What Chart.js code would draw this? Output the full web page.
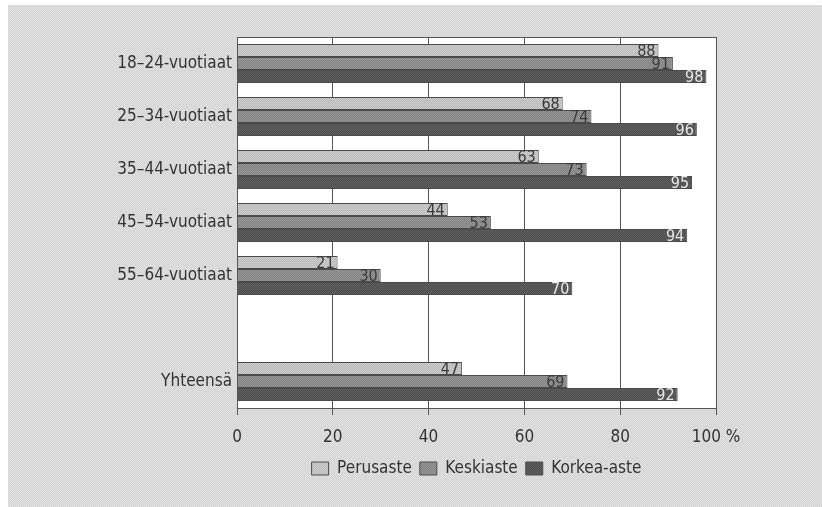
<!DOCTYPE html>
<html>
<head>
<meta charset="utf-8">
<script src="https://cdn.jsdelivr.net/npm/chart.js@4"></script>
<style>
  html, body { margin: 0; padding: 0; background: #fff; }
  #wrap { position: absolute; left: 8px; top: 5px; width: 814px; height: 502px; }
</style>
</head>
<body>
<div id="wrap"><canvas id="chart" width="814" height="502"></canvas></div>
<script>
const categories = ['18–24-vuotiaat', '25–34-vuotiaat', '35–44-vuotiaat', '45–54-vuotiaat', '55–64-vuotiaat', '', 'Yhteensä'];
const seriesNames = ['Perusaste', 'Keskiaste', 'Korkea-aste'];
const perusaste = [88, 68, 63, 44, 21, null, 47];
const keskiaste = [91, 74, 73, 53, 30, null, 69];
const korkeaAste = [98, 96, 95, 94, 70, null, 92];
const xTicks = [0, 20, 40, 60, 80, 100];

const FONT = "'Liberation Sans Narrow', 'DejaVu Sans Condensed', sans-serif";

// small checker patterns to mimic the printed halftone
function makePattern(c1, c2) {
  const p = document.createElement('canvas');
  p.width = 2; p.height = 2;
  const g = p.getContext('2d');
  g.fillStyle = c1; g.fillRect(0, 0, 2, 2);
  g.fillStyle = c2; g.fillRect(0, 0, 1, 1); g.fillRect(1, 1, 1, 1);
  return g.createPattern(p, 'repeat');
}
const ctx = document.getElementById('chart').getContext('2d');
const bgPattern = makePattern('#e2e2e2', '#d2d2d2');
const fills = [
  makePattern('#cfcfcf', '#b8b8b8'),
  makePattern('#999999', '#808080'),
  makePattern('#626262', '#4c4c4c')
];
const labelColors = ['#3a3a3a', '#3a3a3a', '#e8e8e8'];

const backdrop = {
  id: 'backdrop',
  beforeDraw(chart) {
    const c = chart.ctx, a = chart.chartArea;
    c.save();
    c.fillStyle = bgPattern;
    c.fillRect(0, 0, chart.width, chart.height);
    c.fillStyle = '#ffffff';
    c.fillRect(a.left, a.top, a.right - a.left, a.bottom - a.top);
    c.restore();
  },
  afterDraw(chart) {
    const c = chart.ctx, a = chart.chartArea;
    c.save();
    c.strokeStyle = '#555';
    c.lineWidth = 1;
    c.strokeRect(Math.round(a.left) + 0.5, Math.round(a.top) + 0.5, Math.round(a.right - a.left), Math.round(a.bottom - a.top));
    c.restore();
  }
};

const valueLabels = {
  id: 'valueLabels',
  afterDatasetsDraw(chart) {
    const c = chart.ctx;
    c.save();
    c.font = '16px ' + FONT;
    c.textAlign = 'right';
    c.textBaseline = 'middle';
    chart.data.datasets.forEach((ds, i) => {
      chart.getDatasetMeta(i).data.forEach((bar, j) => {
        if (ds.data[j] == null) return;
        c.fillStyle = labelColors[i];
        c.fillText(String(ds.data[j]), bar.x - 3, bar.y + 1);
      });
    });
    c.restore();
  }
};

new Chart(ctx, {
  type: 'bar',
  data: {
    labels: categories,
    datasets: [perusaste, keskiaste, korkeaAste].map((d, i) => ({
      label: seriesNames[i],
      data: d,
      backgroundColor: fills[i],
      borderColor: '#4a4a4a',
      borderWidth: 1,
      borderSkipped: 'start',
      barPercentage: 1,
      categoryPercentage: 0.74
    }))
  },
  options: {
    indexAxis: 'y',
    responsive: false,
    animation: false,
    devicePixelRatio: 1,
    layout: { padding: { left: 0, right: 106, top: 32, bottom: 20 } },
    plugins: {
      legend: {
        position: 'bottom',
        fullSize: false,
        labels: {
          color: '#333',
          font: { family: FONT, size: 17 },
          boxWidth: 17,
          boxHeight: 13,
          padding: 8
        }
      },
      tooltip: { enabled: false }
    },
    scales: {
      x: {
        min: 0, max: 100,
        afterBuildTicks: s => { s.ticks = xTicks.map(v => ({ value: v })); },
        ticks: {
          color: '#333',
          font: { family: FONT, size: 17 },
          padding: 12,
          callback: v => v === 100 ? '100 %' : String(v)
        },
        grid: { color: '#555', lineWidth: 1, tickLength: 7, drawOnChartArea: true },
        border: { color: '#555' },
        afterFit: s => { s.height = 44; }
      },
      y: {
        ticks: { color: '#333', font: { family: FONT, size: 17 }, padding: 5 },
        grid: { display: false, drawTicks: false },
        border: { color: '#555' },
        afterFit: s => { s.width = 229; }
      }
    }
  },
  plugins: [backdrop, valueLabels]
});
</script>
</body>
</html>
